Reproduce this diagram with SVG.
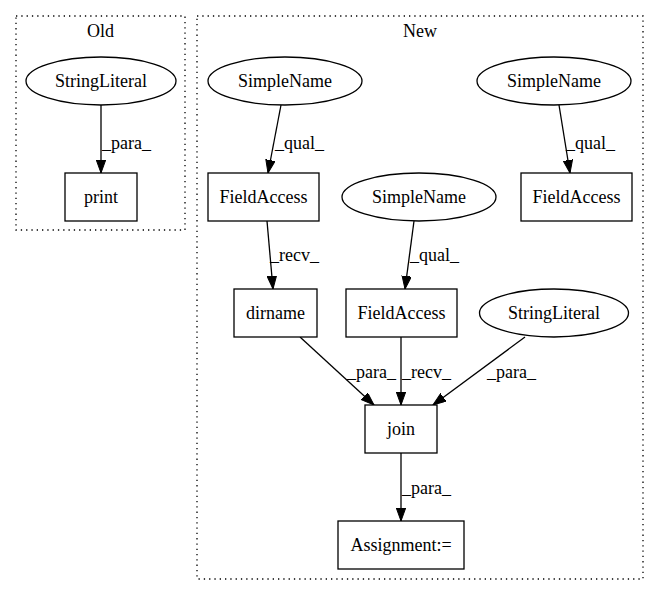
<svg xmlns="http://www.w3.org/2000/svg" width="659" height="596" viewBox="0 0 659 596">
<style>
text{font-family:"Liberation Serif","Times New Roman",serif;font-size:18px;fill:#000}
.n{text-anchor:middle}
.shape{fill:#fff;stroke:#000;stroke-width:1.3}
.cl{fill:none;stroke:#000;stroke-width:1.3;stroke-dasharray:1.3,4}
.e{fill:none;stroke:#000;stroke-width:1.3;marker-end:url(#ah)}
</style>
<defs>
<marker id="ah" markerUnits="userSpaceOnUse" markerWidth="14" markerHeight="10" refX="13" refY="4.7" orient="auto">
<path d="M0,0 L13,4.7 L0,9.4 z" fill="#000" stroke="#000" stroke-width="1"/>
</marker>
</defs>
<rect width="659" height="596" fill="#fff"/>
<g id="cluster_old">
<rect class="cl" x="16" y="16" width="169" height="214"/>
<text class="n" x="100.5" y="37">Old</text>
</g>
<g id="cluster_new">
<rect class="cl" x="197" y="16" width="446" height="563"/>
<text class="n" x="420" y="37">New</text>
</g>
<g id="edges">
<path class="e" d="M101,105 L101,173"/>
<text x="102" y="149">_para_</text>
<path class="e" d="M281,105 L268,173"/>
<text x="275" y="149">_qual_</text>
<path class="e" d="M559,105 L570,173"/>
<text x="566" y="149">_qual_</text>
<path class="e" d="M267,221 L273,289"/>
<text x="270" y="261">_recv_</text>
<path class="e" d="M414,221 L405,289"/>
<text x="410" y="261">_qual_</text>
<path class="e" d="M300,337 L374,405"/>
<text x="347" y="378">_para_</text>
<path class="e" d="M401,337 L401,405"/>
<text x="402" y="378">_recv_</text>
<path class="e" d="M525,337 L433,405"/>
<text x="487" y="378">_para_</text>
<path class="e" d="M401,453 L401,521"/>
<text x="402" y="494">_para_</text>
</g>
<g id="old_stringliteral">
<ellipse class="shape" cx="101" cy="81" rx="75" ry="24"/>
<text class="n" x="101" y="87">StringLiteral</text>
</g>
<g id="old_print">
<rect class="shape" x="65" y="173" width="72" height="48"/>
<text class="n" x="101" y="203">print</text>
</g>
<g id="simplename1">
<ellipse class="shape" cx="285" cy="81" rx="77" ry="24"/>
<text class="n" x="285" y="87">SimpleName</text>
</g>
<g id="simplename2">
<ellipse class="shape" cx="554" cy="81" rx="77" ry="24"/>
<text class="n" x="554" y="87">SimpleName</text>
</g>
<g id="fieldaccess1">
<rect class="shape" x="208" y="173" width="111" height="48"/>
<text class="n" x="263.5" y="203">FieldAccess</text>
</g>
<g id="simplename3">
<ellipse class="shape" cx="419" cy="197" rx="77" ry="24"/>
<text class="n" x="419" y="203">SimpleName</text>
</g>
<g id="fieldaccess2">
<rect class="shape" x="521" y="173" width="111" height="48"/>
<text class="n" x="576.5" y="203">FieldAccess</text>
</g>
<g id="dirname">
<rect class="shape" x="234" y="289" width="83" height="48"/>
<text class="n" x="275.5" y="319">dirname</text>
</g>
<g id="fieldaccess3">
<rect class="shape" x="346" y="289" width="111" height="48"/>
<text class="n" x="401.5" y="319">FieldAccess</text>
</g>
<g id="new_stringliteral">
<ellipse class="shape" cx="554" cy="313" rx="74.5" ry="24"/>
<text class="n" x="554" y="319">StringLiteral</text>
</g>
<g id="join">
<rect class="shape" x="365" y="405" width="72" height="48"/>
<text class="n" x="401" y="435">join</text>
</g>
<g id="assignment">
<rect class="shape" x="338" y="521" width="126" height="48"/>
<text class="n" x="401" y="551">Assignment:=</text>
</g>
</svg>
